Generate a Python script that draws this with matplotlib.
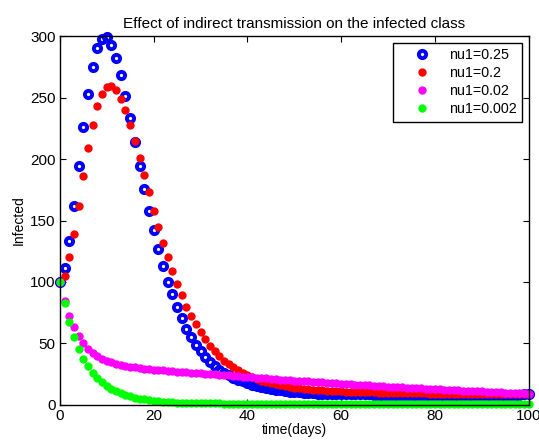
import numpy as np
import matplotlib
matplotlib.use("Agg")
import matplotlib.pyplot as plt

plt.rcParams['font.family'] = ['Liberation Sans', 'DejaVu Sans']

# time in days, one sample per day
days = list(range(0, 101))

# infected class for each value of nu1
infected_025 = [
    100, 111, 133, 162, 194, 226, 253, 275, 290, 298,
    299, 293, 282, 268, 251, 233, 214, 194, 176, 158,
    142, 127, 113, 100, 90, 80, 71, 62, 55, 49,
    43.5, 39, 35, 31.5, 28.5, 26, 24, 22, 20.5, 19,
    17.5, 16.5, 15.5, 14.5, 13.6, 12.9, 12.3, 11.7, 11.2, 10.8,
    10.4, 10.1, 9.8, 9.6, 9.4, 9.2, 9.1, 9.0, 8.9, 8.8,
    8.7, 8.7, 8.6, 8.6, 8.5, 8.5, 8.5, 8.4, 8.4, 8.4,
    8.3, 8.3, 8.3, 8.3, 8.3, 8.3, 8.3, 8.3, 8.3, 8.3,
    8.3, 8.3, 8.3, 8.3, 8.3, 8.3, 8.3, 8.3, 8.3, 8.3,
    8.3, 8.3, 8.3, 8.4, 8.4, 8.4, 8.4, 8.4, 8.4, 8.5, 8.5,
]
infected_02 = [
    100, 105, 120, 139, 162, 186, 209, 228, 243, 253,
    259, 259.5, 256, 249, 240, 228, 215, 201, 187, 173,
    158, 145, 132, 120, 109, 98.5, 89, 80, 72.5, 66,
    59, 53.5, 48, 43.5, 39.5, 36, 33, 30.5, 28, 26,
    24, 22.5, 21, 19.7, 18.5, 17.5, 16.6, 15.8, 15.1, 14.5,
    14.0, 13.5, 13.1, 12.7, 12.4, 12.1, 11.8, 11.6, 11.4, 11.2,
    11.0, 10.8, 10.7, 10.5, 10.4, 10.3, 10.2, 10.1, 10.0, 9.9,
    9.8, 9.7, 9.6, 9.6, 9.5, 9.4, 9.4, 9.3, 9.3, 9.2,
    9.2, 9.1, 9.1, 9.0, 9.0, 9.0, 8.9, 8.9, 8.9, 8.8,
    8.8, 8.8, 8.7, 8.7, 8.7, 8.7, 8.6, 8.6, 8.6, 8.6, 8.6,
]
infected_002 = [
    100, 84.5, 72.5, 63, 56, 50, 45.5, 42, 39.5, 37.5,
    36, 34.7, 33.5, 32.6, 31.8, 31.1, 30.5, 30, 29.5, 29.1,
    28.7, 28.4, 28.1, 27.8, 27.4, 27.1, 26.8, 26.5, 26.2, 25.9,
    25.6, 25.3, 25.0, 24.8, 24.5, 24.2, 23.9, 23.5, 23.2, 22.9,
    22.6, 22.3, 22.0, 21.8, 21.5, 21.2, 20.9, 20.6, 20.3, 20.1,
    19.8, 19.5, 19.3, 19.0, 18.8, 18.5, 18.2, 18.0, 17.7, 17.5,
    17.2, 17.0, 16.7, 16.5, 16.2, 16.0, 15.8, 15.5, 15.3, 15.1,
    14.9, 14.7, 14.4, 14.2, 14.0, 13.8, 13.6, 13.4, 13.2, 13.0,
    12.8, 12.6, 12.4, 12.2, 12.0, 11.8, 11.6, 11.4, 11.2, 11.1,
    10.9, 10.7, 10.5, 10.3, 10.2, 10.0, 9.8, 9.7, 9.5, 9.4, 9.2,
]
infected_0002 = [
    100, 82.5, 67.5, 55, 45.6, 37.5, 31.2, 26, 21.7, 18.2,
    15.3, 12.9, 10.9, 9.3, 7.9, 6.8, 5.8, 5.0, 4.4, 3.8,
    3.3, 2.9, 2.6, 2.3, 2.1, 1.9, 1.7, 1.6, 1.5, 1.4,
    1.3, 1.2, 1.2, 1.1, 1.1, 1.0, 1.0, 1.0, 0.9, 0.9,
    0.9, 0.9, 0.8, 0.8, 0.8, 0.8, 0.8, 0.8, 0.7, 0.7,
    0.7, 0.7, 0.7, 0.7, 0.7, 0.7, 0.7, 0.7, 0.6, 0.6,
    0.6, 0.6, 0.6, 0.6, 0.6, 0.6, 0.6, 0.6, 0.6, 0.6,
    0.6, 0.6, 0.6, 0.6, 0.6, 0.6, 0.6, 0.6, 0.5, 0.5,
    0.5, 0.5, 0.5, 0.5, 0.5, 0.5, 0.5, 0.5, 0.5, 0.5,
    0.5, 0.5, 0.5, 0.5, 0.5, 0.5, 0.5, 0.5, 0.5, 0.5, 0.5,
]
labels = ['nu1=0.25', 'nu1=0.2', 'nu1=0.02', 'nu1=0.002']

fig = plt.figure(figsize=(5.39, 4.41), dpi=100)
ax = fig.add_axes([0.111, 0.082, 0.870, 0.836])

ax.plot(days, infected_025, 'o', color='none', markeredgecolor=(0, 0, 1),
        markersize=5.2, markeredgewidth=2.8, label=labels[0], clip_on=False)
ax.plot(days, infected_02, 'o', color=(1, 0, 0), markersize=6,
        markeredgewidth=0, label=labels[1], clip_on=False)
ax.plot(days, infected_002, 'o', color=(1, 0, 1), markersize=6,
        markeredgewidth=0, label=labels[2], clip_on=False)
ax.plot(days, infected_0002, 'o', color=(0, 1, 0), markersize=6,
        markeredgewidth=0, label=labels[3], clip_on=False)

ax.set_xlim(0, 100)
ax.set_ylim(0, 300)
ax.set_xticks([0, 20, 40, 60, 80, 100])
ax.set_yticks([0, 50, 100, 150, 200, 250, 300])
ax.tick_params(direction='in', top=True, right=True, labelsize=11, length=4, pad=3)
for s in ax.spines.values():
    s.set_linewidth(1.0)

ax.set_xlabel('time(days)', fontsize=10, labelpad=0)
ax.set_ylabel('Infected', fontsize=10, labelpad=3)
ax.set_title('Effect of indirect transmission on the infected class', fontsize=11, pad=6)

leg = ax.legend(loc='upper right', fontsize=10.3, fancybox=False, edgecolor='black',
                framealpha=1, borderaxespad=0.45, handlelength=3.2, handletextpad=0.3,
                labelspacing=0.28, borderpad=0.4)
leg.get_frame().set_linewidth(1.0)

fig.savefig('out.png', dpi=100)
